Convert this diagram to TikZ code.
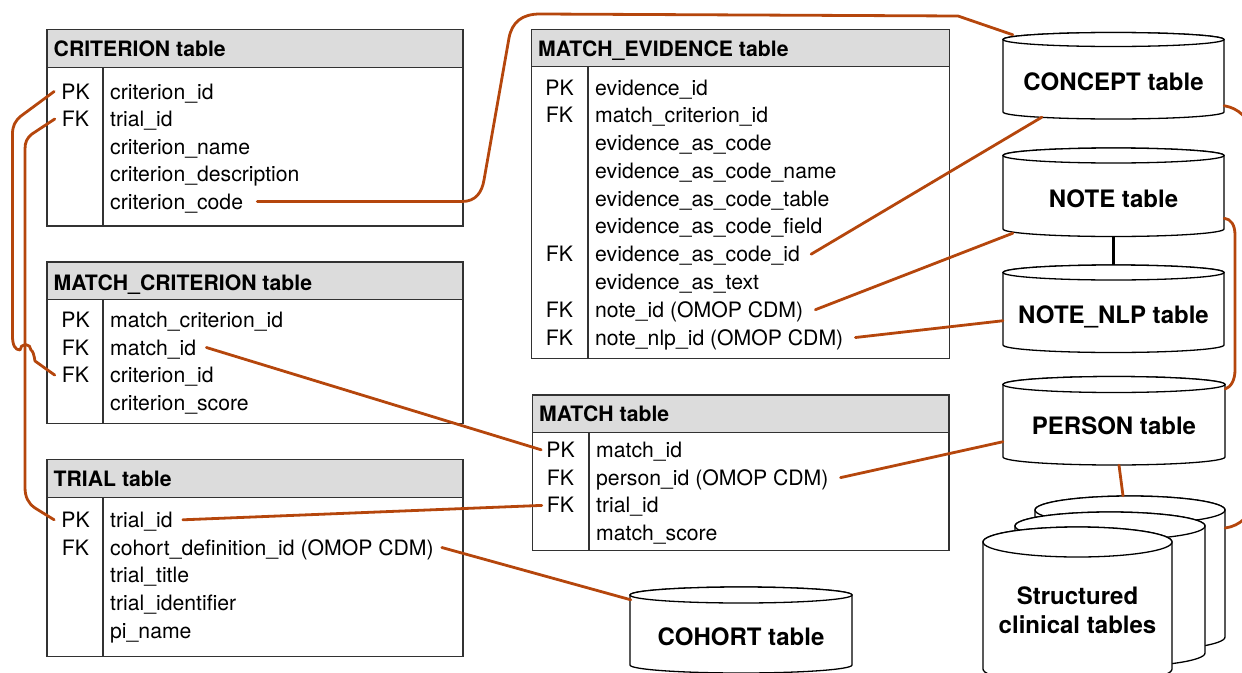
\documentclass[tikz,border=0pt]{standalone}
\usepackage{fontspec}
\setmainfont{TeX Gyre Heros}
\definecolor{connc}{RGB}{181,70,12}
\definecolor{hdrgray}{RGB}{220,220,220}
\definecolor{tblc}{RGB}{50,50,50}
\newcommand\fieldfont{\fontsize{21.2}{25}\selectfont}
\newcommand\cylfont{\fontsize{24}{29}\selectfont\bfseries}
\newcommand\tblbox[6]{%
  \fill[hdrgray] (#1,-#3) rectangle (#2,-#4);
  \draw[tbl] (#1,-#3) rectangle (#2,-#5) (#1,-#4) -- (#2,-#4) (#6,-#4) -- (#6,-#5);
}
\newcommand\cylshape[5]{%
  \pgfmathsetmacro\cylrx{(#2-#1)/2}
  \pgfmathsetmacro\cylcx{(#2+#1)/2}
  \filldraw[cyl] (#1,-#3) -- (#1,-#4) arc[start angle=180,end angle=360,x radius=\cylrx,y radius=#5] -- (#2,-#3) arc[start angle=0,end angle=180,x radius=\cylrx,y radius=#5] -- cycle;
  \draw[cyl] (\cylcx,-#3) ellipse[x radius=\cylrx,y radius=#5];
}
\newcommand\cyl[8]{%
  \cylshape{#1}{#2}{#3}{#4}{#5}
  \pgfmathsetmacro\cylw{#2-#1}
  \pgfmathsetmacro\cylh{#4-#3+2*#5}
  \pgfmathsetmacro\cylcy{(#3+#4)/2}
  \pgfmathsetmacro\cylth{2*(#7-\cylcy)}
  \node[cylbox,minimum width=\cylw pt,minimum height=\cylh pt,text height=\cylth pt,text depth=0pt] (#6) at (\cylcx,-\cylcy) {#8};
}
\begin{document}
\begin{tikzpicture}[x=1pt,y=1pt,
  tbl/.style={draw=tblc,line width=1.4pt},
  cyl/.style={draw=black,fill=white,line width=1.3pt},
  cylbox/.style={rectangle,inner sep=0pt,font=\cylfont},
  fld/.style={anchor=base west,inner sep=0pt,font=\fieldfont,text height=15pt,text depth=0pt},
  key/.style={anchor=base,inner sep=0pt,font=\fieldfont,text height=15pt,text depth=0pt},
  hdr/.style={anchor=base west,inner sep=0pt,font=\fieldfont\bfseries},
  conn/.style={draw=connc,line width=2.8pt,line cap=round,line join=round},
  blk/.style={draw=black,line width=2.2pt}]
\useasboundingbox (0,0) rectangle (1242,-672);
\clip (0,0) rectangle (1242,-672);

% CRITERION table
\tblbox{47}{463}{29.5}{67.3}{226}{103}
\node[hdr] (h-c) at (53.5,-56) {CRITERION table};
\node[key] (k-c1) at (75.5,-99) {PK};
\node[key] (k-c2) at (75.5,-126.5) {FK};
\node[fld] (f-c1) at (110,-99) {criterion\_id};
\node[fld] (f-c2) at (110,-126.5) {trial\_id};
\node[fld] (f-c3) at (110,-154) {criterion\_name};
\node[fld] (f-c4) at (110,-181.5) {criterion\_description};
\node[fld] (f-c5) at (110,-209) {criterion\_code};

% MATCH_CRITERION table
\tblbox{47}{463}{262}{299.3}{423.3}{103}
\node[hdr] (h-mc) at (53.5,-290) {MATCH\_CRITERION table};
\node[key] (k-mc1) at (75.5,-327.3) {PK};
\node[key] (k-mc2) at (75.5,-355) {FK};
\node[key] (k-mc3) at (75.5,-382.6) {FK};
\node[fld] (f-mc1) at (110,-327.3) {match\_criterion\_id};
\node[fld] (f-mc2) at (110,-355) {match\_id};
\node[fld] (f-mc3) at (110,-382.6) {criterion\_id};
\node[fld] (f-mc4) at (110,-410.2) {criterion\_score};

% TRIAL table
\tblbox{47}{463}{459.3}{497.3}{656.7}{103}
\node[hdr] (h-t) at (53.5,-486.5) {TRIAL table};
\node[key] (k-t1) at (75.5,-527.3) {PK};
\node[key] (k-t2) at (75.5,-555) {FK};
\node[fld] (f-t1) at (110,-527.3) {trial\_id};
\node[fld] (f-t2) at (110,-555) {cohort\_definition\_id (OMOP CDM)};
\node[fld] (f-t3) at (110,-582.8) {trial\_title};
\node[fld] (f-t4) at (110,-610.5) {trial\_identifier};
\node[fld] (f-t5) at (110,-638.3) {pi\_name};

% MATCH_EVIDENCE table
\tblbox{531.7}{949.3}{29.3}{66.7}{358.3}{588}
\node[hdr] (h-me) at (538,-56) {MATCH\_EVIDENCE table};
\node[key] (k-me1) at (559.5,-95) {PK};
\node[key] (k-me2) at (559.5,-122.8) {FK};
\node[key] (k-me7) at (559.5,-261.7) {FK};
\node[key] (k-me9) at (559.5,-317.2) {FK};
\node[key] (k-me10) at (559.5,-345) {FK};
\node[fld] (f-me1) at (595,-95) {evidence\_id};
\node[fld] (f-me2) at (595,-122.8) {match\_criterion\_id};
\node[fld] (f-me3) at (595,-150.6) {evidence\_as\_code};
\node[fld] (f-me4) at (595,-178.3) {evidence\_as\_code\_name};
\node[fld] (f-me5) at (595,-206.1) {evidence\_as\_code\_table};
\node[fld] (f-me6) at (595,-233.9) {evidence\_as\_code\_field};
\node[fld] (f-me7) at (595,-261.7) {evidence\_as\_code\_id};
\node[fld] (f-me8) at (595,-289.4) {evidence\_as\_text};
\node[fld] (f-me9) at (595,-317.2) {note\_id (OMOP CDM)};
\node[fld] (f-me10) at (595,-345) {note\_nlp\_id (OMOP CDM)};

% MATCH table
\tblbox{532.3}{949}{395}{432.3}{550.7}{589}
\node[hdr] (h-m) at (539,-421.7) {MATCH table};
\node[key] (k-m1) at (560.5,-457.3) {PK};
\node[key] (k-m2) at (560.5,-485.1) {FK};
\node[key] (k-m3) at (560.5,-512.9) {FK};
\node[fld] (f-m1) at (596,-457.3) {match\_id};
\node[fld] (f-m2) at (596,-485.1) {person\_id (OMOP CDM)};
\node[fld] (f-m3) at (596,-512.9) {trial\_id};
\node[fld] (f-m4) at (596,-540.7) {match\_score};

% cylinders
\cyl{1003}{1224}{39.5}{112}{7}{concept}{90}{CONCEPT table}
\cyl{1003}{1224}{155.5}{229}{7.5}{note}{207}{NOTE table}
\cyl{1003}{1224}{272.5}{345}{7.5}{nlp}{323}{NOTE\_NLP table}
\cyl{1003}{1225}{384.5}{457}{8}{person}{434}{PERSON table}
\cyl{630}{852}{595}{665}{8}{cohort}{645}{COHORT table}
\cyl{1035}{1225}{510}{637}{14}{clin3}{600}{}
\cyl{1015}{1205}{526}{653}{14}{clin2}{600}{}
\cylshape{983}{1172}{542}{669}{15}
\node[cylbox,align=center,minimum width=189pt,minimum height=157pt] (clin1) at (1077.5,-610.5) {Structured\\clinical tables};

% connectors
\draw[conn] ([xshift=14pt]f-c5.east) -- (462,-201.5) .. controls (476,-201.5) and (482,-192) .. (484,-180) -- (509,-38) .. controls (512,-22) and (522,-14) .. (540,-14) -- (958,-16) -- ([xshift=10pt,yshift=-2.5pt]concept.north west);
\draw[conn] ([xshift=-7pt]k-c1.west) -- (21,-116) .. controls (15,-121) and (12.5,-126) .. (12.5,-134) -- (12.5,-336) .. controls (12.5,-345) and (15,-350) .. (20,-350) arc[start angle=180,end angle=0,radius=5.5] .. controls (33,-351) and (34,-355) .. (35,-361) -- ([xshift=-7pt]k-mc3.west);
\draw[conn] ([xshift=-7pt]k-c2.west) -- (32,-134) .. controls (27,-138) and (25,-142) .. (25,-149) -- (25,-487) .. controls (25,-497) and (28,-503) .. (35,-508) -- ([xshift=-7pt]k-t1.west);
\draw[conn] ([xshift=10pt]f-mc2.east) -- ([xshift=-5pt]k-m1.west);
\draw[conn] ([xshift=10pt]f-t1.east) -- ([xshift=-5pt]k-m3.west);
\draw[conn] ([xshift=8pt]f-t2.east) -- ([xshift=1pt,yshift=-13pt]cohort.north west);
\draw[conn] ([xshift=11pt]f-me7.east) -- ([xshift=39pt,yshift=2pt]concept.south west);
\draw[conn] ([xshift=12pt]f-me9.east) -- ([xshift=10pt,yshift=3.5pt]note.south west);
\draw[conn] ([xshift=12pt]f-me10.east) -- ([yshift=-12pt]nlp.west);
\draw[conn] ([xshift=12pt]f-m2.east) -- ([yshift=-21pt]person.west);
\draw[conn] ([xshift=5pt]person.south) -- ([xshift=-7pt]clin3.north);
\draw[blk] (note.south) -- (nlp.north);
\draw[conn] ([yshift=-30pt]concept.east) .. controls (1238,-108) and (1250,-118) .. (1252,-135) -- (1252,-500) .. controls (1252,-515) and (1240,-526) .. ([yshift=45.5pt]clin3.east);
\draw[conn] ([yshift=-26pt]note.east) .. controls (1231,-219) and (1235,-225) .. (1235,-235) -- (1235,-370) .. controls (1235,-380) and (1231,-387) .. ([yshift=31.75pt]person.east);
\end{tikzpicture}
\end{document}
